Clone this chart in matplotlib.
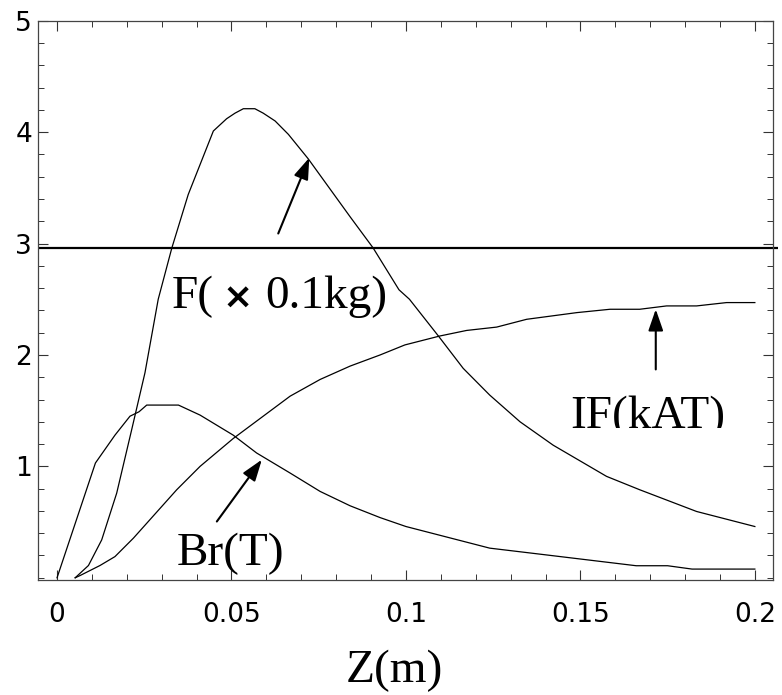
import numpy as np
import matplotlib
matplotlib.use("Agg")
import matplotlib.pyplot as plt
from matplotlib.patches import Rectangle
from matplotlib.ticker import MultipleLocator, FixedLocator

# --- data (Z in m) ---
br_z = [0.0, 0.011, 0.0166, 0.0209, 0.0235, 0.0257, 0.0348, 0.041, 0.0505, 0.0572,
        0.0668, 0.0754, 0.084, 0.0926, 0.1, 0.124, 0.14, 0.166, 0.175, 0.182, 0.2]
br_val = [0.0, 1.03, 1.28, 1.45, 1.49, 1.55, 1.55, 1.46, 1.28, 1.12,
          0.94, 0.775, 0.646, 0.54, 0.46, 0.266, 0.206, 0.108, 0.108, 0.078, 0.078]

f_z = [0.0052, 0.009, 0.0128, 0.0171, 0.0214, 0.0252, 0.029, 0.0329, 0.0376, 0.0448,
       0.0486, 0.051, 0.0534, 0.0567, 0.0591, 0.0625, 0.0663, 0.072, 0.084, 0.0906,
       0.098, 0.101, 0.1093, 0.1164, 0.124, 0.1327, 0.1422, 0.1575, 0.167, 0.1833, 0.2]
f_val = [0.0, 0.11, 0.34, 0.76, 1.33, 1.84, 2.50, 2.96, 3.44, 4.01,
         4.12, 4.17, 4.21, 4.21, 4.17, 4.10, 3.98, 3.76, 3.24, 2.96,
         2.585, 2.50, 2.17, 1.88, 1.64, 1.40, 1.19, 0.91, 0.79, 0.595, 0.46]

if_z = [0.0052, 0.0066, 0.0123, 0.0166, 0.0219, 0.0343, 0.041, 0.0505, 0.0668, 0.0754,
        0.084, 0.0926, 0.0997, 0.1097, 0.1174, 0.126, 0.1346, 0.149, 0.1585, 0.167,
        0.1747, 0.1833, 0.1919, 0.2]
if_val = [0.0, 0.02, 0.11, 0.19, 0.356, 0.79, 1.0, 1.25, 1.63, 1.78,
          1.90, 2.0, 2.09, 2.17, 2.22, 2.25, 2.32, 2.38, 2.41, 2.41,
          2.44, 2.44, 2.47, 2.47]

ref_level = 2.96   # horizontal reference line

# F label is written in three pieces: "F(" , heavy "x", "0.1kg)"
f_parts = ["F(", "\u00d7", "0.1kg)"]
f_parts_x = [0.0450, 0.0517, 0.0596]   # right edge, centre, left edge
f_base = 2.42
f_arrow = [(0.0634, 3.09), (0.0723, 3.77)]

br_label = ("Br(T)", 0.0498, 0.117)
br_arrow = [(0.0458, 0.505), (0.0587, 1.06)]
if_label = ("IF(kAT)", 0.1693, 1.346)
if_arrow = [(0.1716, 1.87), (0.1716, 2.41)]

xticks = [0, 0.05, 0.1, 0.15, 0.2]
xtick_labels = ["0", "0.05", "0.1", "0.15", "0.2"]
yticks = [1, 2, 3, 4, 5]

fig = plt.figure(figsize=(7.82, 6.95), dpi=100)
ax = fig.add_axes([37.5 / 782, 1 - 580 / 695, (773 - 37.5) / 782, (580 - 20.7) / 695])

for z, v in [(br_z, br_val), (f_z, f_val), (if_z, if_val)]:
    ax.plot(z, v, color="black", lw=0.9)

xmin, xmax = -0.0056, 0.2052
ax.set_xlim(xmin, xmax)
ax.set_ylim(-0.02, 5.0)

# reference line pokes a little past the right frame
ax.plot([xmin, xmax + 0.0015], [ref_level, ref_level], color="black", lw=1.6,
        clip_on=False, solid_capstyle="butt")

serif = "Liberation Serif"
arrow_style = dict(arrowstyle="-|>,head_length=1.3,head_width=0.45",
                   color="black", lw=1.5, shrinkA=0, shrinkB=0)

# F( x 0.1kg)
ax.text(f_parts_x[0], f_base, f_parts[0], fontsize=34, family=serif,
        ha="right", va="baseline")
ax.text(f_parts_x[1], f_base, f_parts[1], fontsize=26, family="DejaVu Sans",
        fontweight="bold", ha="center", va="baseline")
ax.text(f_parts_x[2], f_base, f_parts[2], fontsize=34, family=serif,
        ha="left", va="baseline")
ax.annotate("", xy=f_arrow[1], xytext=f_arrow[0], arrowprops=arrow_style)

# Br(T)
ax.text(br_label[1], br_label[2], br_label[0], fontsize=34, family=serif,
        ha="center", va="baseline")
ax.annotate("", xy=br_arrow[1], xytext=br_arrow[0], arrowprops=arrow_style)

# IF(kAT) - its bottom edge is cut off in the original
t = ax.text(if_label[1], if_label[2], if_label[0], fontsize=34, family=serif,
            ha="center", va="baseline")
clip = Rectangle((0.1, (578 - 428) / 111.4), 0.2, 2, transform=ax.transData)
t.set_clip_on(True)
t.set_clip_path(clip)
ax.annotate("", xy=if_arrow[1], xytext=if_arrow[0], arrowprops=arrow_style)

ax.xaxis.set_major_locator(FixedLocator(xticks))
ax.set_xticklabels(xtick_labels)
ax.xaxis.set_minor_locator(MultipleLocator(0.01))
ax.yaxis.set_major_locator(FixedLocator(yticks))
ax.yaxis.set_minor_locator(MultipleLocator(0.2))

ax.tick_params(which="both", direction="in", top=True, right=True,
               colors="#333333", labelcolor="black")
ax.tick_params(which="major", length=7, width=0.8)
ax.tick_params(which="minor", length=4, width=0.7)
ax.tick_params(axis="x", which="major", labelsize=19, pad=16)
ax.tick_params(axis="y", which="major", labelsize=19, pad=4)
for lab in ax.get_xticklabels() + ax.get_yticklabels():
    lab.set_family("DejaVu Sans")

for s in ax.spines.values():
    s.set_color("#444444")
    s.set_linewidth(0.9)

fig.text(394 / 782, 1 - 682 / 695, "Z(m)", fontsize=34, family=serif,
         ha="center", va="baseline")

fig.savefig("out.png", dpi=100)
